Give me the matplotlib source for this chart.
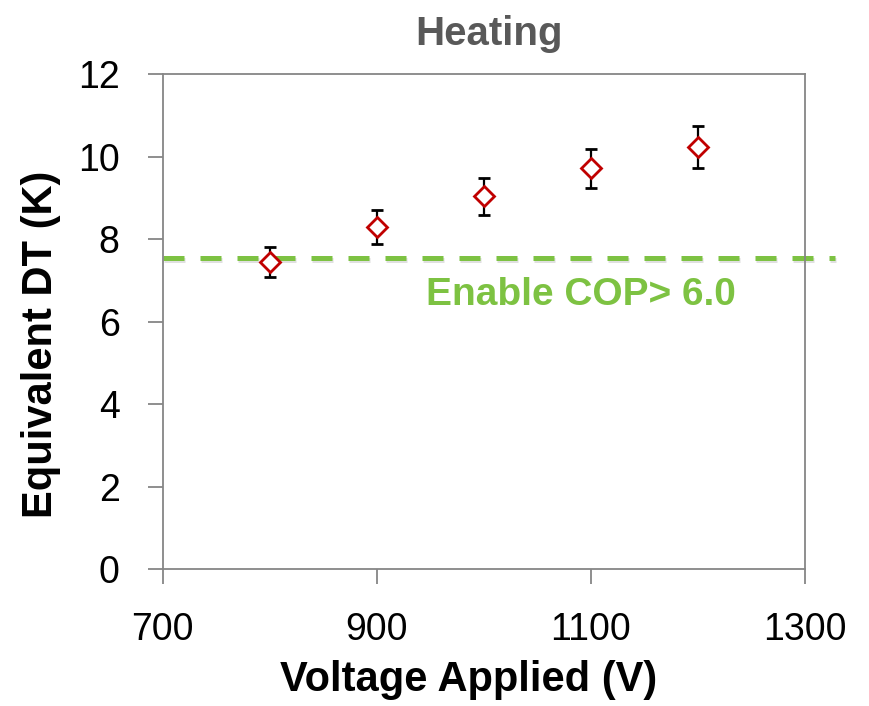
import matplotlib
matplotlib.use('Agg')
import matplotlib.pyplot as plt
import matplotlib.patheffects as pe

voltage = [800, 900, 1000, 1100, 1200]
dt_equiv = [7.44, 8.29, 9.04, 9.72, 10.23]
dt_err = [0.37, 0.41, 0.45, 0.47, 0.51]
cop_line = 7.54
cop_label = 'Enable COP> 6.0'

xticks = [700, 900, 1100, 1300]
yticks = [0, 2, 4, 6, 8, 10, 12]

plt.rcParams['font.family'] = ['Liberation Sans', 'DejaVu Sans']

fig = plt.figure(figsize=(8.7, 7.06), dpi=100)
ax = fig.add_axes([0.187, 0.194, 0.738, 0.701])

# target line, runs a bit past the right spine like the original
ax.plot([700, 1328], [cop_line, cop_line], color='#7DC242', lw=3.6,
        dashes=(4.2, 3.2), clip_on=False, zorder=2,
        path_effects=[pe.SimpleLineShadow(offset=(0.8, -1.5), shadow_color='#999999', alpha=0.3),
                      pe.Normal()])

ax.errorbar(voltage, dt_equiv, yerr=dt_err, fmt='D', ms=10, mfc='white',
            mec='#C00000', mew=2, ecolor='black', elinewidth=1.6,
            capsize=4.5, capthick=1.6, zorder=3)

ax.text(1090.7, 6.40, cop_label, color='#7DC242', fontsize=28,
        fontweight='bold', ha='center', va='baseline')

ax.set_xlim(700, 1300)
ax.set_ylim(0, 12)
ax.set_xticks(xticks)
ax.set_yticks(yticks)
ax.tick_params(axis='both', labelsize=27, color='#868686', length=11, width=1.3,
               direction='out')
ax.tick_params(axis='x', pad=20)
ax.tick_params(axis='y', pad=20)
for s in ax.spines.values():
    s.set_color('#868686')
    s.set_linewidth(1.3)

ax.set_xlabel('Voltage Applied (V)', fontsize=30, fontweight='bold')
ax.xaxis.set_label_coords(0.477, -0.183)
ax.set_ylabel('Equivalent DT (K)', fontsize=30, fontweight='bold')
ax.yaxis.set_label_coords(-0.158, 0.455)
ax.set_title('Heating', fontsize=29, fontweight='bold', color='#595959', pad=21, x=0.509)

fig.savefig('out.png', dpi=100)
